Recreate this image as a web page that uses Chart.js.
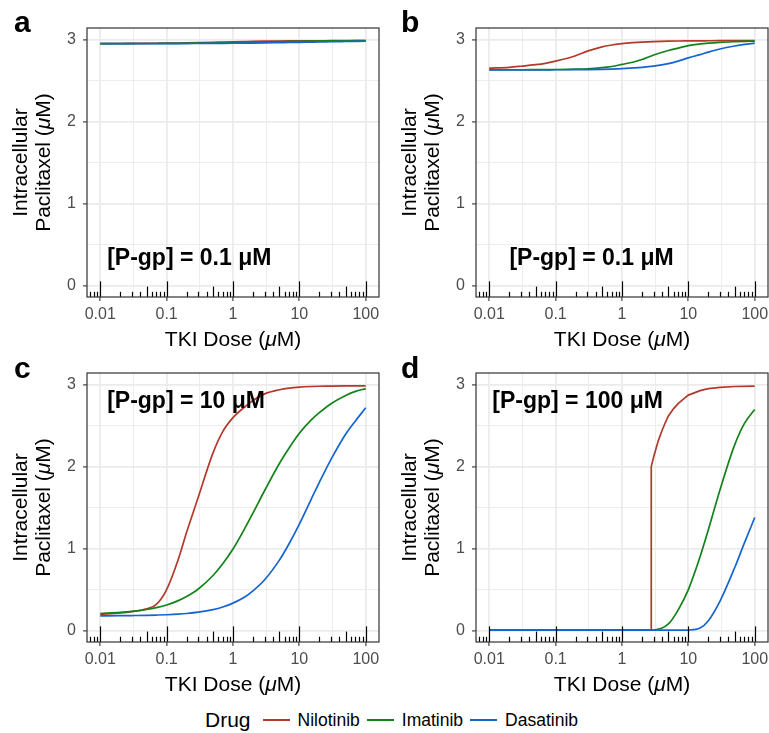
<!DOCTYPE html>
<html>
<head>
<meta charset="utf-8">
<script src="https://cdn.jsdelivr.net/npm/chart.js@4.4.1/dist/chart.umd.min.js"></script>
<style>
    body { margin: 0; background: #fff; width: 769px; height: 733px; position: relative; overflow: hidden;
           font-family: "Liberation Sans", Arial, Helvetica, sans-serif; }
    canvas { position: absolute; }
    #legend { position: absolute; left: 205px; top: 708px; height: 24px; display: flex; align-items: center; }
    #legend span { line-height: 24px; white-space: nowrap; }
    #legend .ttl { font-size: 21px; margin-right: 12px; }
    #legend .key { display: inline-block; width: 27px; height: 2px; margin-right: 8px; }
    #legend .lbl { font-size: 17.5px; margin-right: 7px; }
</style>
</head>
<body>
<canvas id="panel-a" width="385" height="355" style="left:0px;top:0px"></canvas>
<canvas id="panel-b" width="380" height="355" style="left:389px;top:0px"></canvas>
<canvas id="panel-c" width="385" height="355" style="left:0px;top:345px"></canvas>
<canvas id="panel-d" width="380" height="355" style="left:389px;top:345px"></canvas>
<div id="legend"></div>
<script>
    // ---- data ----
    const drugNames = ["Nilotinib", "Imatinib", "Dasatinib"];
    const drugColors = ["#B23A2B", "#14821A", "#1565D0"];

    const doses = [0.01, 0.02, 0.03, 0.05, 0.07, 0.1, 0.15, 0.2, 0.3, 0.5, 0.7, 1,
                   1.5, 2, 3, 5, 7, 10, 15, 20, 30, 50, 70, 100];
    // panel d nilotinib jumps sharply near 2.75 uM
    const dosesJump = [0.01, 0.1, 1, 2, 2.75, 2.76, 2.85, 3, 3.25, 3.5, 4, 4.5, 5, 6, 7, 8.5, 10,
                       15, 20, 30, 50, 100];

    // panel a: [P-gp] = 0.1 uM
    const nilotinibA = [2.955, 2.956, 2.957, 2.958, 2.959, 2.96, 2.962, 2.964, 2.967, 2.971, 2.974, 2.977,
                        2.98, 2.982, 2.984, 2.986, 2.987, 2.988, 2.989, 2.989, 2.99, 2.99, 2.99, 2.99];
    const imatinibA = [2.955, 2.955, 2.955, 2.956, 2.956, 2.957, 2.958, 2.959, 2.96, 2.962, 2.964, 2.966,
                       2.969, 2.971, 2.974, 2.978, 2.98, 2.983, 2.985, 2.986, 2.988, 2.989, 2.99, 2.99];
    const dasatinibA = [2.954, 2.954, 2.954, 2.954, 2.954, 2.955, 2.955, 2.955, 2.956, 2.957, 2.958, 2.959,
                        2.96, 2.961, 2.963, 2.966, 2.968, 2.97, 2.973, 2.975, 2.977, 2.98, 2.982, 2.984];

    // panel b: [P-gp] = 0.1 uM
    const nilotinibB = [2.654, 2.665, 2.678, 2.697, 2.714, 2.74, 2.775, 2.806, 2.862, 2.915, 2.937, 2.955,
                        2.967, 2.973, 2.979, 2.984, 2.986, 2.987, 2.988, 2.989, 2.99, 2.99, 2.99, 2.99];
    const imatinibB = [2.635, 2.635, 2.635, 2.636, 2.637, 2.638, 2.64, 2.642, 2.646, 2.66, 2.675, 2.70,
                       2.73, 2.76, 2.815, 2.87, 2.90, 2.93, 2.95, 2.96, 2.97, 2.978, 2.982, 2.985];
    const dasatinibB = [2.634, 2.634, 2.634, 2.634, 2.634, 2.635, 2.635, 2.636, 2.637, 2.64, 2.644, 2.65,
                        2.658, 2.665, 2.68, 2.71, 2.74, 2.78, 2.82, 2.85, 2.888, 2.925, 2.945, 2.96];

    // panel c: [P-gp] = 10 uM
    const nilotinibC = [0.20, 0.215, 0.232, 0.265, 0.32, 0.5, 0.87, 1.2, 1.63, 2.17, 2.43, 2.6,
                        2.73, 2.81, 2.89, 2.94, 2.96, 2.972, 2.98, 2.983, 2.985, 2.987, 2.988, 2.988];
    const imatinibC = [0.207, 0.222, 0.234, 0.257, 0.28, 0.312, 0.365, 0.415, 0.507, 0.672, 0.815, 0.995,
                       1.245, 1.435, 1.71, 2.04, 2.23, 2.41, 2.57, 2.66, 2.77, 2.87, 2.92, 2.955];
    const dasatinibC = [0.18, 0.181, 0.183, 0.186, 0.189, 0.193, 0.2, 0.208, 0.224, 0.255, 0.287, 0.335,
                        0.41, 0.485, 0.62, 0.86, 1.06, 1.3, 1.6, 1.81, 2.09, 2.4, 2.56, 2.72];

    // panel d: [P-gp] = 100 uM
    const nilotinibD = [0.004, 0.004, 0.004, 0.004, 0.004, 2.0, 2.05, 2.12, 2.22, 2.31, 2.44, 2.54,
                        2.62, 2.71, 2.77, 2.83, 2.875, 2.93, 2.955, 2.97, 2.98, 2.985];
    const imatinibD = [0.004, 0.004, 0.004, 0.004, 0.004, 0.004, 0.004, 0.004, 0.004, 0.004, 0.004, 0.004,
                       0.004, 0.004, 0.006, 0.08, 0.25, 0.5, 0.9, 1.23, 1.72, 2.27, 2.53, 2.70];
    const dasatinibD = [0.004, 0.004, 0.004, 0.004, 0.004, 0.004, 0.004, 0.004, 0.004, 0.004, 0.004, 0.004,
                        0.004, 0.004, 0.004, 0.004, 0.004, 0.006, 0.03, 0.12, 0.36, 0.77, 1.07, 1.38];

    const panelLetters = ["a", "b", "c", "d"];
    const pgpLabels = ["[P-gp] = 0.1 μM", "[P-gp] = 0.1 μM", "[P-gp] = 10 μM", "[P-gp] = 100 μM"];

    const xTickValues = [0.01, 0.1, 1, 10, 100];
    const xTickLabels = ["0.01", "0.1", "1", "10", "100"];
    const xMinorValues = [Math.pow(10, -1.5), Math.pow(10, -0.5), Math.pow(10, 0.5), Math.pow(10, 1.5)];
    const yTickValues = [0, 1, 2, 3];
    const yMinorValues = [0.5, 1.5, 2.5];

    // axis titles, with the mu set in italics: [text, italic]
    const xTitleParts = [["TKI Dose (", false], ["μ", true], ["M)", false]];
    const yTitleLines = [
        [["Intracellular", false]],
        [["Paclitaxel (", false], ["μ", true], ["M)", false]],
    ];

    // ---- styling ----
    const FONT = '"Liberation Sans", Arial, Helvetica, sans-serif';
    Chart.defaults.font.family = FONT;

    // log tick marks along the bottom of each panel (annotation_logticks style)
    const rugTicks = [];
    for (let e = -3; e <= 2; e++) {
        for (let m = 1; m <= 9; m++) {
            rugTicks.push({ value: m * Math.pow(10, e), len: m === 1 ? 15.6 : m === 5 ? 10.4 : 5.2 });
        }
    }

    function drawRich(ctx, parts, size, cx, cy) {
        const fonts = parts.map((p) => (p[1] ? "italic " : "") + size + "px " + FONT);
        let total = 0;
        const widths = parts.map((p, i) => {
            ctx.font = fonts[i];
            const w = ctx.measureText(p[0]).width;
            total += w;
            return w;
        });
        let x = cx - total / 2;
        ctx.textAlign = "left";
        ctx.textBaseline = "middle";
        parts.forEach((p, i) => {
            ctx.font = fonts[i];
            ctx.fillText(p[0], x, cy);
            x += widths[i];
        });
    }

    const panelDecor = {
        id: "panelDecor",
        afterDatasetsDraw(chart, args, opts) {
            const { ctx, chartArea: area, scales: { x, y } } = chart;
            ctx.save();
            ctx.beginPath();
            ctx.rect(area.left, area.top, area.right - area.left, area.bottom - area.top);
            ctx.clip();
            ctx.strokeStyle = "#000";
            ctx.lineWidth = 1.2;
            rugTicks.forEach((t) => {
                const px = Math.round(x.getPixelForValue(t.value)) + 0.5;
                ctx.beginPath();
                ctx.moveTo(px, area.bottom);
                ctx.lineTo(px, area.bottom - t.len);
                ctx.stroke();
            });
            ctx.restore();

            ctx.save();
            ctx.fillStyle = "#000";
            ctx.font = "bold 23px " + FONT;
            ctx.textAlign = "left";
            ctx.textBaseline = "middle";
            ctx.fillText(opts.text, x.getPixelForValue(opts.x), y.getPixelForValue(opts.y));

            ctx.strokeStyle = "#333333";
            ctx.lineWidth = 1.2;
            ctx.strokeRect(area.left, area.top, area.right - area.left, area.bottom - area.top);

            ctx.font = "bold 30px " + FONT;
            ctx.textBaseline = "alphabetic";
            ctx.fillText(opts.letter, opts.letterX, opts.letterY);

            // axis titles
            drawRich(ctx, xTitleParts, 21, (area.left + area.right) / 2, 340.5);
            const midY = (area.top + area.bottom) / 2;
            [21.5, 44.5].forEach((lx, i) => {
                ctx.save();
                ctx.translate(lx, midY);
                ctx.rotate(-Math.PI / 2);
                drawRich(ctx, yTitleLines[i], 21, 0, 0);
                ctx.restore();
            });
            ctx.restore();
        },
    };

    function isMajorX(v) {
        return xTickValues.some((t) => Math.abs(t - v) < 1e-9);
    }

    function makePanel(canvasId, xs, series, label, rightPad) {
        const datasets = series.map((vals, i) => ({
            label: drugNames[i],
            data: (xs[i] || doses).map((d, k) => ({ x: d, y: vals[k] })),
            borderColor: drugColors[i],
            borderWidth: 1.7,
            pointRadius: 0,
            cubicInterpolationMode: xs[i] ? "default" : "monotone",
            tension: 0,
            fill: false,
            order: series.length - i,
        }));

        new Chart(document.getElementById(canvasId).getContext("2d"), {
            type: "line",
            data: { datasets: datasets },
            options: {
                responsive: false,
                animation: false,
                events: [],
                layout: { padding: { top: 28, right: rightPad, left: 0, bottom: 0 } },
                scales: {
                    x: {
                        type: "logarithmic",
                        min: Math.pow(10, -2.2),
                        max: Math.pow(10, 2.2),
                        afterBuildTicks: (scale) => {
                            scale.ticks = xTickValues.concat(xMinorValues).map((v) => ({ value: v }));
                        },
                        afterFit: (scale) => {
                            scale.height = 58;
                        },
                        border: { display: false },
                        grid: {
                            color: "#EBEBEB",
                            lineWidth: (c) => (c.tick && isMajorX(c.tick.value) ? 1.8 : 0.9),
                            tickLength: 4,
                            tickWidth: 1.1,
                            tickColor: (c) => (c.tick && isMajorX(c.tick.value) ? "#333333" : "rgba(0,0,0,0)"),
                        },
                        ticks: {
                            autoSkip: false,
                            maxRotation: 0,
                            minRotation: 0,
                            padding: 4,
                            color: "#4D4D4D",
                            font: { size: 16 },
                            callback: function (value) {
                                const idx = xTickValues.findIndex((t) => Math.abs(t - value) < 1e-9);
                                return idx >= 0 ? xTickLabels[idx] : "";
                            },
                        },
                        title: { display: false },
                    },
                    y: {
                        type: "linear",
                        min: -0.14,
                        max: 3.145,
                        afterBuildTicks: (scale) => {
                            scale.ticks = yTickValues.concat(yMinorValues).map((v) => ({ value: v }));
                        },
                        afterFit: (scale) => {
                            scale.width = 87;
                        },
                        border: { display: false },
                        grid: {
                            color: "#EBEBEB",
                            lineWidth: (c) => (c.tick && yTickValues.includes(c.tick.value) ? 1.8 : 0.9),
                            tickLength: 4,
                            tickWidth: 1.1,
                            tickColor: (c) => (c.tick && yTickValues.includes(c.tick.value) ? "#333333" : "rgba(0,0,0,0)"),
                        },
                        ticks: {
                            autoSkip: false,
                            padding: 7,
                            color: "#4D4D4D",
                            font: { size: 16 },
                            callback: (value) => (yTickValues.includes(value) ? String(value) : ""),
                        },
                        title: { display: false },
                    },
                },
                plugins: {
                    legend: { display: false },
                    tooltip: { enabled: false },
                    panelDecor: label,
                },
            },
            plugins: [panelDecor],
        });
    }

    makePanel("panel-a", [], [nilotinibA, imatinibA, dasatinibA],
        { text: pgpLabels[0], x: 0.0127, y: 0.33, letter: panelLetters[0], letterX: 14, letterY: 32 }, 6);
    makePanel("panel-b", [], [nilotinibB, imatinibB, dasatinibB],
        { text: pgpLabels[1], x: 0.0201, y: 0.33, letter: panelLetters[1], letterX: 12, letterY: 32 }, 1);
    makePanel("panel-c", [], [nilotinibC, imatinibC, dasatinibC],
        { text: pgpLabels[2], x: 0.0127, y: 2.79, letter: panelLetters[2], letterX: 14, letterY: 33 }, 6);
    makePanel("panel-d", [dosesJump], [nilotinibD, imatinibD, dasatinibD],
        { text: pgpLabels[3], x: 0.0111, y: 2.79, letter: panelLetters[3], letterX: 12, letterY: 33 }, 1);

    // shared legend
    const legend = document.getElementById("legend");
    legend.innerHTML = '<span class="ttl">Drug</span>' + drugNames.map((name, i) =>
        '<span class="key" style="background:' + drugColors[i] + '"></span><span class="lbl">' + name + "</span>"
    ).join("");
</script>
</body>
</html>
